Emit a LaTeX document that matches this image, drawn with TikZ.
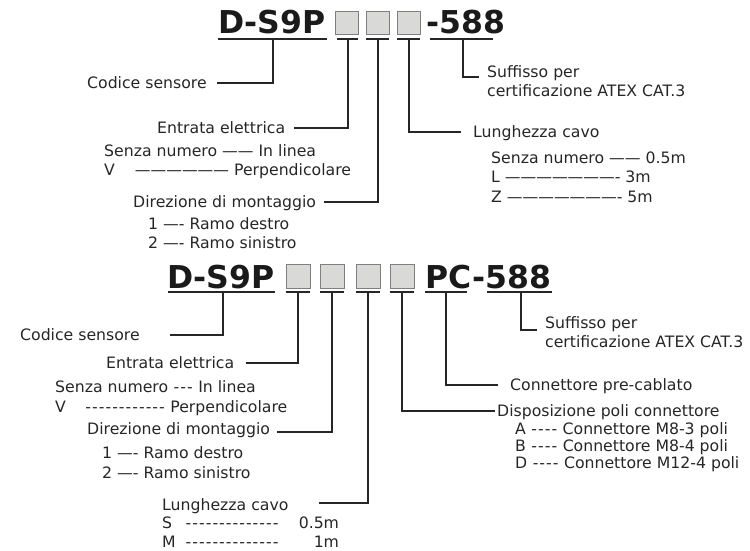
\documentclass[tikz,border=0pt]{standalone}
\usepackage{fontspec}
\setmainfont{DejaVu Sans}
\definecolor{txt}{HTML}{262626}
\definecolor{ttlc}{HTML}{1A1A1A}
\definecolor{ln}{HTML}{262626}
\definecolor{boxfill}{HTML}{D9DAD8}
\definecolor{boxdraw}{HTML}{7F7F7F}
\newcommand\hy{\makebox[6.7pt]{-}}
\begin{document}
\begin{tikzpicture}[x=1pt,y=-1pt,
  lab/.style={anchor=west,inner sep=0pt,text height=12pt,text depth=1pt,font=\fontsize{15.7}{19}\selectfont,text=txt},
  ttl/.style={anchor=base west,inner sep=0pt,font=\fontsize{31.5}{36}\bfseries\selectfont,text=ttlc},
  gbox/.style={draw=boxdraw,fill=boxfill,line width=1pt,inner sep=0pt,minimum width=#1,minimum height=#1},
  conn/.style={draw=ln,line width=1.4pt},
  uline/.style={draw=ln,line width=1.4pt}]
\useasboundingbox (0,0) rectangle (750,551);

% ---------- top code ----------
\node[ttl] (t1) at (218,34) {D-S9P};
\node[gbox=23pt] (b1) at (346.5,23.5) {};
\node[gbox=23pt] (b2) at (377.5,23.5) {};
\node[gbox=23pt] (b3) at (408.5,23.5) {};
\node[ttl] (t2) at (426,34) {-588};
\draw[uline] (218,39) -- (327,39) (337,39) -- (358,39) (366,39) -- (389,39) (397,39) -- (420,39) (430,39) -- (493,39);
\coordinate (ua1) at (273,39);
\coordinate (ua2) at (348,39);
\coordinate (ua3) at (378,39);
\coordinate (ua4) at (409,39);
\coordinate (ua5) at (463,39);

\node[lab] (cs1) at (87,83) {Codice sensore};
\draw[conn] (ua1) |- ([xshift=10pt]cs1.east);
\node[lab] (ee1) at (157,128) {Entrata elettrica};
\draw[conn] (ua2) |- ([xshift=9pt]ee1.east);
\node[lab] (sn1) at (104,151) {Senza numero —— In linea};
\node[lab] (v1) at (104,170) {V\hspace{20pt}—————— Perpendicolare};
\node[lab] (dm1) at (133,202) {Direzione di montaggio};
\draw[conn] (ua3) |- ([xshift=8pt]dm1.east);
\node[lab] (r1) at (148,224) {1 —- Ramo destro};
\node[lab] (r2) at (148,243) {2 —- Ramo sinistro};
\node[lab] (sf1) at (487,72) {Suffisso per};
\node[lab] (sf2) at (487,91) {certificazione ATEX CAT.3};
\draw[conn] (ua5) |- ([shift={(-8pt,-5pt)}]sf1.west);
\node[lab] (lc1) at (473,132) {Lunghezza cavo};
\draw[conn] (ua4) |- ([xshift=-12pt]lc1.west);
\node[lab] (c1) at (491,158) {Senza numero —— 0.5m};
\node[lab] (c2) at (491,177) {L ———————- 3m};
\node[lab] (c3) at (491,197) {Z ———————- 5m};

% ---------- bottom code ----------
\node[ttl] (t3) at (167,288) {D-S9P};
\node[gbox=24pt] (b4) at (298,276) {};
\node[gbox=24pt] (b5) at (332,276) {};
\node[gbox=24pt] (b6) at (368,276) {};
\node[gbox=24pt] (b7) at (402,276) {};
\node[ttl] (t4) at (425,288) {PC-588};
\draw[uline] (168,292) -- (275,292) (286,292) -- (310,292) (320,292) -- (344,292) (356,292) -- (380,292) (390,292) -- (414,292) (425,292) -- (467,292) (487,292) -- (552,292);
\coordinate (ub1) at (223,292);
\coordinate (ub2) at (298,292);
\coordinate (ub3) at (332,292);
\coordinate (ub4) at (368,292);
\coordinate (ub5) at (402,292);
\coordinate (ub6) at (446,292);
\coordinate (ub7) at (521,292);

\node[lab] (cs2) at (20,335) {Codice sensore};
\draw[conn] (ub1) |- ([xshift=30pt]cs2.east);
\node[lab] (ee2) at (106,363) {Entrata elettrica};
\draw[conn] (ub2) |- ([xshift=12pt]ee2.east);
\node[lab] (sn2) at (55,387) {Senza numero \hy\hy\hy\ In linea};
\node[lab] (v2) at (55,407) {V\hspace{19pt}\hy\hy\hy\hy\hy\hy\hy\hy\hy\hy\hy\hy\ Perpendicolare};
\node[lab] (dm2) at (87,429) {Direzione di montaggio};
\draw[conn] (ub3) |- ([shift={(7pt,-3pt)}]dm2.east);
\node[lab] (r3) at (102,453) {1 —- Ramo destro};
\node[lab] (r4) at (102,473) {2 —- Ramo sinistro};
\node[lab] (lc2) at (162,505) {Lunghezza cavo};
\draw[conn] (ub4) |- ([shift={(30pt,2pt)}]lc2.east);
\node[lab] (s1) at (162,523) {\makebox[23pt][l]{S}\hy\hy\hy\hy\hy\hy\hy\hy\hy\hy\hy\hy\hy\hy\makebox[60pt][r]{0.5m}};
\node[lab] (s2) at (162,542) {\makebox[23pt][l]{M}\hy\hy\hy\hy\hy\hy\hy\hy\hy\hy\hy\hy\hy\hy\makebox[60pt][r]{1m}};

\node[lab] (sf3) at (545,323) {Suffisso per};
\node[lab] (sf4) at (545,342) {certificazione ATEX CAT.3};
\draw[conn] (ub7) |- ([shift={(-8pt,-7pt)}]sf3.west);
\node[lab] (pc) at (510,385) {Connettore pre-cablato};
\draw[conn] (ub6) |- ([xshift=-12pt]pc.west);
\node[lab] (dp) at (497,411) {Disposizione poli connettore};
\draw[conn] (ub5) |- ([xshift=-2pt]dp.west);
\node[lab] (pa) at (515,429) {A \hy\hy\hy\hy\ Connettore M8-3 poli};
\node[lab] (pb) at (515,446) {B \hy\hy\hy\hy\ Connettore M8-4 poli};
\node[lab] (pd) at (515,463) {D \hy\hy\hy\hy\ Connettore M12-4 poli};
\end{tikzpicture}
\end{document}
